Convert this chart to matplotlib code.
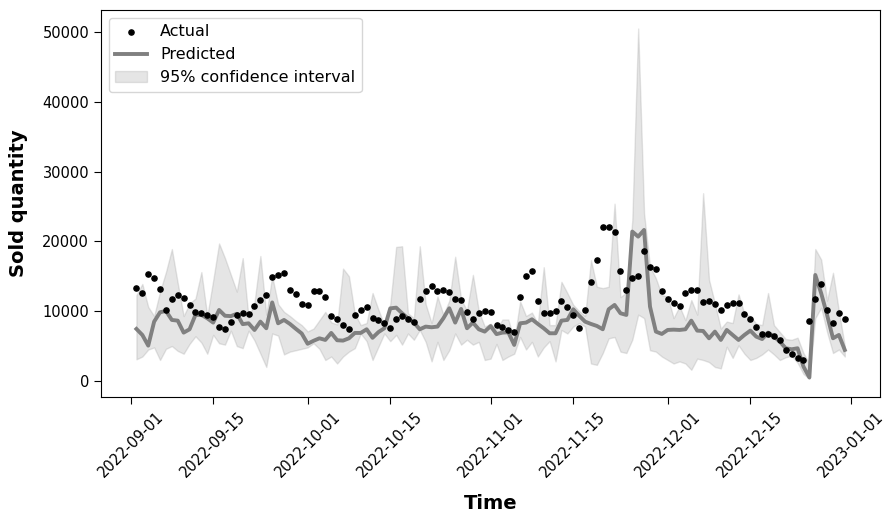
import matplotlib
matplotlib.use("Agg")
import matplotlib.pyplot as plt
import matplotlib.dates as mdates
import pandas as pd

# daily values, 2022-09-02 .. 2022-12-31
start_date = "2022-09-02"

actual = [13300, 12650, 15350, 14750, 13200, 10150, 11700, 12380, 11950, 10900,
          9900, 9700, 9400, 9200, 7700, 7400, 8480, 9520, 9790, 9550,
          10800, 11560, 12350, 14830, 15200, 15430, 13040, 12440, 11060, 10900,
          12850, 12850, 12060, 9290, 8900, 8050, 7500, 9390, 10170, 10630,
          9030, 8670, 8300, 7550, 8880, 9250, 8880, 8480, 11770, 12820,
          13610, 12850, 13010, 12700, 11680, 11630, 9930, 8880, 9770, 10080,
          9840, 8070, 7740, 7310, 7070, 12080, 15000, 15760, 11420, 9740,
          9740, 10030, 11420, 10650, 9500, 7570, 10100, 14190, 17310, 22020,
          22040, 21280, 15810, 12970, 14730, 15020, 18550, 16360, 16070, 12900,
          11770, 11130, 10750, 12660, 12990, 12990, 11370, 11510, 10960, 10150,
          10860, 11130, 11100, 9550, 8860, 7690, 6790, 6700, 6500, 5850,
          4490, 3890, 3340, 2960, 8550, 11700, 13950, 10150, 8360, 9670,
          8880]

predicted = [7450, 6590, 5060, 8500, 9840, 10030, 8740, 8640, 6925, 7400,
             9460, 9460, 8980, 8360, 10170, 9340, 9290, 9620, 8140, 8260,
             7300, 8500, 7550, 11250, 8260, 8740, 8170, 7470, 6800, 5330,
             5750, 6110, 5875, 6880, 5830, 5780, 6110, 6880, 6880, 7400,
             6180, 7000, 7550, 10400, 10500, 9700, 8980, 8360, 7400, 7785,
             7690, 7785, 8980, 10410, 8360, 10316, 7546, 8360, 7400, 7070,
             7860, 6710, 6925, 6970, 5160, 8260, 8360, 8835, 8170, 7546,
             6830, 6830, 8640, 8740, 10270, 9340, 8500, 8167, 7880, 7403,
             10270, 10890, 9695, 9456, 21400, 20680, 21635, 10650, 7070, 6734,
             7307, 7350, 7307, 7400, 8640, 7210, 7160, 6110, 7070, 5875,
             7307, 6590, 5875, 6590, 7210, 6350, 6000, 6925, 6352, 5636,
             4680, 4537, 4680, 2054, 500, 15188, 12560, 9456, 6113, 6590,
             4442]

ci_upper = [12300, 13900, 10600, 9300, 12800, 15600, 18900, 14000, 9300, 11100,
            11800, 15600, 9300, 14400, 19700, 17600, 15200, 12800, 17600, 9000,
            11300, 17900, 9500, 15000, 11000, 9900, 9300, 8600, 8000, 7100,
            7500, 8700, 9900, 8400, 8100, 16100, 15000, 9600, 8000, 8300,
            12600, 10200, 8000, 11000, 19200, 19300, 9700, 9000, 19300, 11000,
            8300, 12100, 9500, 11500, 17800, 11700, 10100, 15200, 10000, 7800,
            8200, 7400, 8800, 8800, 5800, 11400, 9300, 9800, 8200, 16300,
            8000, 8000, 14200, 12600, 10900, 10000, 9300, 17300, 13500, 13300,
            13500, 25400, 12000, 12700, 23000, 50500, 24000, 16400, 14700, 12300,
            12100, 9000, 10700, 8700, 11600, 9500, 26900, 14500, 11100, 7500,
            8500, 8300, 12400, 9600, 9300, 8200, 8000, 12600, 8000, 7000,
            6000, 5900, 6200, 4000, 2500, 18900, 17400, 11500, 15500, 10000,
            5000]

ci_lower = [3100, 3500, 4500, 4800, 3000, 4600, 5000, 4300, 3900, 5300,
            6400, 5500, 3900, 6600, 5400, 5200, 7200, 5000, 4700, 7200,
            5800, 3900, 2000, 6800, 6500, 3800, 4200, 4400, 4600, 4800,
            5400, 4600, 3000, 3500, 2500, 3500, 4200, 4700, 6800, 5700,
            3000, 4900, 6800, 5700, 6600, 5200, 6800, 5900, 7300, 5600,
            2800, 5600, 3000, 4400, 6800, 5200, 5900, 5200, 5600, 3000,
            3200, 5300, 3000, 3500, 3900, 6300, 4500, 5600, 3500, 4800,
            5700, 2800, 7300, 6800, 7800, 8300, 7800, 2500, 2300, 4000,
            6100, 6300, 4200, 4000, 5900, 9500, 9000, 4400, 4200, 3500,
            3000, 2500, 2800, 2500, 1600, 3200, 3000, 2700, 2000, 1800,
            4900, 3300, 5100, 3900, 3000, 3300, 3800, 4500, 3800, 3000,
            3400, 3600, 2600, 1000, 300, 9000, 10500, 7000, 4000, 4500,
            3500]

dates = pd.date_range(start_date, periods=len(actual), freq="D")

fig = plt.figure(figsize=(8.9, 5.18), dpi=100)
ax = fig.add_axes([0.1135, 0.2336, 0.8755, 0.7471])

ax.scatter(dates, actual, s=14, color="black", label="Actual", zorder=3)
ax.plot(dates, predicted, color="gray", linewidth=2.8, label="Predicted")
ax.fill_between(dates, ci_lower, ci_upper, color="gray", alpha=0.2,
                label="95% confidence interval")

ax.set_ylim(-2300, 53150)
ax.xaxis.set_major_locator(mdates.DayLocator(bymonthday=[1, 15]))
ax.xaxis.set_major_formatter(mdates.DateFormatter("%Y-%m-%d"))
ax.tick_params(length=5)
plt.setp(ax.get_xticklabels(), rotation=45, fontsize=10.5)
plt.setp(ax.get_yticklabels(), fontsize=10.5)

ax.set_xlabel("Time", fontsize=14, fontweight="bold", labelpad=10)
ax.set_ylabel("Sold quantity", fontsize=14, fontweight="bold", labelpad=10)
ax.legend(loc="upper left", fontsize=11.5)

fig.savefig("out.png", dpi=100)
